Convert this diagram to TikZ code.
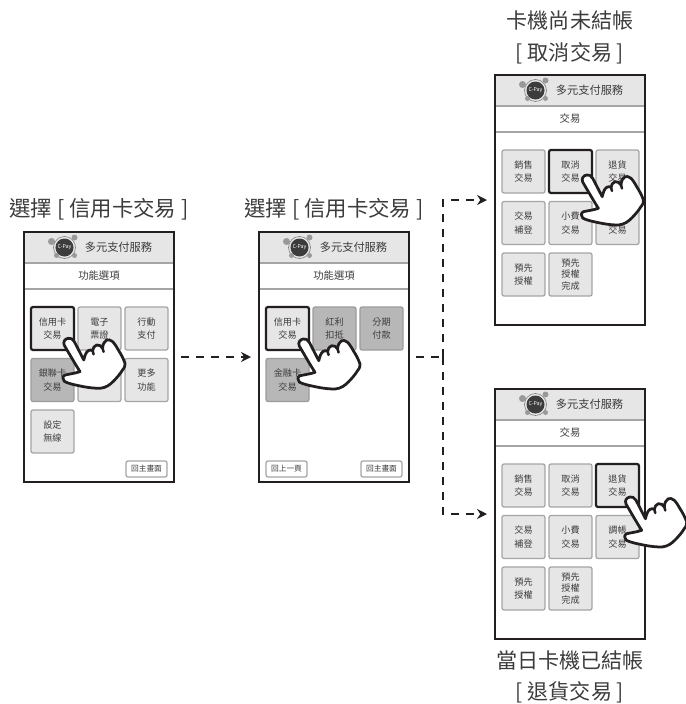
\documentclass[tikz,border=0pt]{standalone}
\usepackage{xcolor}
\usepackage{fontspec}
\setmainfont{Noto Sans CJK TC}
\usetikzlibrary{arrows.meta, positioning}
\definecolor{framedark}{RGB}{35,31,32}
\definecolor{keylight}{RGB}{230,230,230}
\definecolor{keydark}{RGB}{183,183,183}
\definecolor{keyedge}{RGB}{165,165,165}
\definecolor{inkgray}{RGB}{60,60,60}
\tikzset{
    screen/.style={rectangle, fill=white, minimum width=3cm, minimum height=5cm, inner sep=0pt, outer sep=0pt},
    screenline/.style={line width=0.045cm, framedark},
    headband/.style={rectangle, fill=keylight, minimum width=3cm, minimum height=0.62cm, inner sep=0pt, outer sep=0pt, anchor=north west},
    titleband/.style={rectangle, minimum width=3cm, minimum height=0.52cm, inner sep=0pt, outer sep=0pt, anchor=north west, text=inkgray, font=\fontsize{5.9}{7}\selectfont},
    bandline/.style={line width=0.03cm, keyedge},
    headtext/.style={text=inkgray, inner sep=0pt, font=\fontsize{6.4}{8}\selectfont},
    keybox/.style={rectangle, draw=keyedge, line width=0.025cm, fill=keylight, rounded corners=0.04cm, minimum width=0.86cm, minimum height=0.86cm, inner sep=0pt, outer sep=0pt, align=center, text=inkgray, font=\fontsize{5.2}{7.5}\selectfont},
    keydense/.style={font=\fontsize{5.2}{6.6}\selectfont},
    keydim/.style={fill=keydark, draw=keydark!85!black},
    keyactive/.style={draw=framedark, line width=0.045cm},
    backkey/.style={rectangle, draw=keyedge, line width=0.025cm, fill=white, rounded corners=0.04cm, minimum width=0.82cm, minimum height=0.32cm, inner sep=0pt, outer sep=0pt, text=inkgray, font=\fontsize{4.4}{5}\selectfont},
    caption/.style={text=inkgray, inner sep=0pt, font=\fontsize{12.2}{14}\selectfont},
    bigcaption/.style={text=inkgray, inner sep=0pt, align=center, font=\fontsize{12}{18}\selectfont},
    flowline/.style={line width=0.045cm, framedark, dash pattern=on 0.16cm off 0.14cm},
    flowarrow/.style={flowline, -{Stealth[length=0.2cm, width=0.2cm]}},
    pics/paylogo/.style={code={
        \begin{scope}[x=0.02cm, y=-0.02cm]
            \draw[line width=0.012cm, gray] (0,0) circle (11);
            \fill[gray!80] (-13,-6) circle (3.5);
            \fill[gray!80] (10,-10) circle (3);
            \fill[gray!80] (10,8) circle (2.5);
            \fill[gray!80] (-8,8) circle (2.5);
            \fill[inkgray] (0,0) circle (9);
            \node[text=white, inner sep=0pt, font=\fontsize{3}{3}\selectfont] (-brand) at (0,0) {C-Pay};
        \end{scope}
    }},
    pics/hand/.style={code={
        \begin{scope}[x=0.02cm, y=-0.02cm]
            \draw[line width=0.055cm, framedark, fill=white, line join=round, line cap=round]
                (15.5,21.7) .. controls (12,15) and (9,9) .. (6,3.3)
                .. controls (4.5,0.5) and (2,-0.5) .. (0,0)
                .. controls (-3.5,0.5) and (-5.5,3.5) .. (-4,7)
                .. controls (-0.5,13) and (7,26) .. (11.7,33.3)
                .. controls (7,35) and (2,35.5) .. (-3.3,36.7)
                .. controls (-6,38) and (-6,41) .. (-4,43)
                .. controls (-1,45) and (6,46.5) .. (15,48.3)
                .. controls (21,49.5) and (27,50) .. (31.7,50)
                .. controls (38,49.5) and (42,46) .. (45,43)
                .. controls (48,40) and (52,35.5) .. (54,32)
                .. controls (56.5,29) and (57,27) .. (56.7,25)
                .. controls (55,20) and (52.5,15.5) .. (50,11.7)
                .. controls (48,8) and (46,5) .. (44.3,3.3)
                .. controls (42,1.5) and (40,1) .. (38.3,1.7)
                .. controls (36,3) and (34.5,6) .. (34.3,10)
                .. controls (33,7.5) and (31,6.5) .. (28.3,6.7)
                .. controls (26,7.5) and (24.8,9.5) .. (24.3,12.3)
                .. controls (23,11.5) and (21.5,11.5) .. (20,12.3)
                .. controls (17.5,14) and (16.5,17.5) .. (15.5,21.7) -- cycle;
            \coordinate (-gapa) at (25.3,16);
            \coordinate (-gapb) at (35.3,13.5);
            \draw[line width=0.05cm, framedark, line cap=round] (24.3,12.3) -- (-gapa);
            \draw[line width=0.05cm, framedark, line cap=round] (34.3,10) -- (-gapb);
        \end{scope}
    }}
}
% name, placement, title
\newcommand{\screenframe}[3]{
    \node[screen, #2] (#1) {};
    \node[headband] (#1head) at (#1.north west) {};
    \node[titleband] (#1title) at (#1head.south west) {#3};
    \draw[bandline] (#1head.south west) -- (#1head.south east);
    \draw[bandline] (#1title.south west) -- (#1title.south east);
    \pic (#1logo) at ([xshift=-0.69cm]#1head.center) {paylogo};
    \node[headtext] (#1name) at ([xshift=0.39cm]#1head.center) {多元支付服務};
    \draw[screenline] (#1.north west) rectangle (#1.south east);
}
\begin{document}
\begin{tikzpicture}
    \useasboundingbox (0,0) rectangle (13.72,-14.08);

    % Screens
    \screenframe{menuA}{anchor=north west, at={(0.48,-4.64)}}{功能選項}
    \screenframe{menuB}{right=1.7cm of menuA}{功能選項}
    \screenframe{tradeC}{anchor=north west, at={(9.9,-1.5)}}{交易}
    \screenframe{tradeD}{below=1.28cm of tradeC}{交易}

    % Keys of the first menu
    \node[keybox, keyactive, anchor=north west] (creditA) at ([shift={(0.14,-1.5)}]menuA.north west) {信用卡\\交易};
    \node[keybox, right=0.08cm of creditA] (ticketA) {電子\\票證};
    \node[keybox, right=0.08cm of ticketA] (mobileA) {行動\\支付};
    \node[keybox, keydim, below=0.17cm of creditA] (unionA) {銀聯卡\\交易};
    \node[keybox, below=0.17cm of ticketA] (blankA) {};
    \node[keybox, below=0.17cm of mobileA] (moreA) {更多\\功能};
    \node[keybox, below=0.17cm of unionA] (wifiA) {設定\\無線};
    \node[backkey, anchor=south east] (homeA) at ([shift={(-0.14,0.1)}]menuA.south east) {回主畫面};

    % Keys of the second menu
    \node[keybox, keyactive, anchor=north west] (creditB) at ([shift={(0.14,-1.5)}]menuB.north west) {信用卡\\交易};
    \node[keybox, keydim, right=0.08cm of creditB] (bonusB) {紅利\\扣抵};
    \node[keybox, keydim, right=0.08cm of bonusB] (splitB) {分期\\付款};
    \node[keybox, keydim, below=0.17cm of creditB] (debitB) {金融卡\\交易};
    \node[backkey, anchor=south west] (backB) at ([shift={(0.14,0.1)}]menuB.south west) {回上一頁};
    \node[backkey, anchor=south east] (homeB) at ([shift={(-0.14,0.1)}]menuB.south east) {回主畫面};

    % Keys of the upper trade screen
    \node[keybox, anchor=north west] (saleC) at ([shift={(0.14,-1.5)}]tradeC.north west) {銷售\\交易};
    \node[keybox, keyactive, right=0.08cm of saleC] (voidC) {取消\\交易};
    \node[keybox, right=0.08cm of voidC] (refundC) {退貨\\交易};
    \node[keybox, below=0.17cm of saleC] (fixC) {交易\\補登};
    \node[keybox, below=0.17cm of voidC] (tipC) {小費\\交易};
    \node[keybox, below=0.17cm of refundC] (adjustC) {調帳\\交易};
    \node[keybox, below=0.17cm of fixC] (authC) {預先\\授權};
    \node[keybox, keydense, below=0.17cm of tipC] (doneC) {預先\\授權\\完成};

    % Keys of the lower trade screen
    \node[keybox, anchor=north west] (saleD) at ([shift={(0.14,-1.5)}]tradeD.north west) {銷售\\交易};
    \node[keybox, right=0.08cm of saleD] (voidD) {取消\\交易};
    \node[keybox, keyactive, right=0.08cm of voidD] (refundD) {退貨\\交易};
    \node[keybox, below=0.17cm of saleD] (fixD) {交易\\補登};
    \node[keybox, below=0.17cm of voidD] (tipD) {小費\\交易};
    \node[keybox, below=0.17cm of refundD] (adjustD) {調帳\\交易};
    \node[keybox, below=0.17cm of fixD] (authD) {預先\\授權};
    \node[keybox, keydense, below=0.17cm of tipD] (doneD) {預先\\授權\\完成};

    % Hands
    \pic (handA) at ([shift={(-0.114,0.234)}]creditA.south east) {hand};
    \pic (handB) at ([shift={(-0.114,0.22)}]creditB.south east) {hand};
    \pic (handC) at ([shift={(-0.106,0.36)}]voidC.south east) {hand};
    \pic (handD) at ([shift={(-0.18,0.2)}]refundD.south east) {hand};

    % Captions
    \node[caption, above=0.23cm of menuA] (pickA) {選擇 [ 信用卡交易 ]};
    \node[caption, above=0.23cm of menuB] (pickB) {選擇 [ 信用卡交易 ]};
    \node[bigcaption, above=0.22cm of tradeC] (openC) {卡機尚未結帳\\{}[ 取消交易 ]};
    \node[bigcaption, below=0.22cm of tradeD] (closedD) {當日卡機已結帳\\{}[ 退貨交易 ]};

    % Arrows
    \coordinate[right=0.68cm of menuB.east] (branch);
    \draw[flowarrow, shorten <=0.14cm, shorten >=0.16cm] (menuA.east) -- (menuB.west);
    \draw[flowline, shorten <=0.14cm] (menuB.east) -- (branch);
    \draw[flowarrow, shorten >=0.16cm] (branch) |- (tradeC.west);
    \draw[flowarrow, shorten >=0.16cm] (branch) |- (tradeD.west);
\end{tikzpicture}
\end{document}
